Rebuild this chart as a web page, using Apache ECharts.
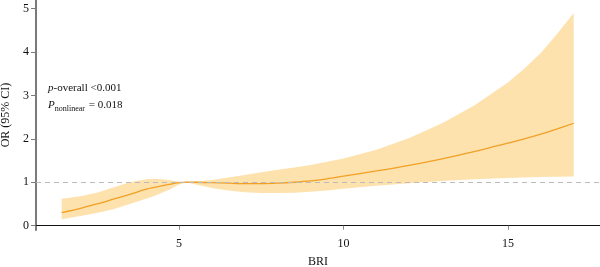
<!DOCTYPE html>
<html>
<head>
<meta charset="utf-8">
<script src="https://cdn.jsdelivr.net/npm/echarts@6/dist/echarts.min.js"></script>
<style>
  html, body { margin: 0; padding: 0; background: #fff; }
  #chart { width: 600px; height: 267px; }
</style>
</head>
<body>
<div id="chart"></div>
<script>
// BRI values and the spline OR estimate with its 95% CI
var bri   = [1.43, 2, 2.5, 3, 3.5, 4, 4.3, 4.7, 5, 5.2, 5.5, 6, 6.5, 7, 7.5, 8, 8.5, 9, 9.5, 10, 11, 12, 13, 14, 15, 15.5, 16, 16.5, 17];
var orFit = [0.30, 0.40, 0.50, 0.61, 0.72, 0.84, 0.89, 0.95, 0.99, 1.0, 1.0, 0.99, 0.98, 0.97, 0.97, 0.98, 1.0, 1.03, 1.08, 1.14, 1.26, 1.39, 1.54, 1.71, 1.90, 2.0, 2.11, 2.23, 2.36];
var ciLow = [0.15, 0.22, 0.29, 0.38, 0.50, 0.62, 0.70, 0.83, 0.95, 1.0, 0.95, 0.87, 0.81, 0.77, 0.75, 0.75, 0.76, 0.78, 0.81, 0.85, 0.92, 0.98, 1.03, 1.07, 1.10, 1.11, 1.12, 1.125, 1.13];
var ciUp  = [0.62, 0.68, 0.76, 0.88, 1.0, 1.07, 1.08, 1.05, 1.01, 1.0, 1.02, 1.05, 1.11, 1.17, 1.23, 1.29, 1.34, 1.40, 1.47, 1.55, 1.75, 2.02, 2.36, 2.78, 3.30, 3.62, 3.98, 4.42, 4.9];
var xTicks = [5, 10, 15];
var yTicks = [0, 1, 2, 3, 4, 5];

var serif = '"Liberation Serif", "DejaVu Serif", serif';

var fitData = bri.map(function (x, i) { return [x, orFit[i]]; });

var myChart = echarts.init(document.getElementById('chart'));
var option = {
    animation: false,
    textStyle: { fontFamily: serif },
    grid: { left: 36, right: 0, top: 0, bottom: 37, containLabel: false, outerBoundsMode: 'none' },
    xAxis: {
        type: 'value',
        min: 0.65,
        max: 17.8,
        name: 'BRI',
        nameLocation: 'middle',
        nameGap: 26,
        nameTextStyle: { fontFamily: serif, fontSize: 12, color: '#111' },
        splitLine: { show: false },
        axisLine: { lineStyle: { color: '#111', width: 1.2 } },
        axisTick: { customValues: xTicks, length: 4, lineStyle: { color: '#888' } },
        axisLabel: { customValues: xTicks, fontFamily: serif, fontSize: 12, color: '#111', margin: 8 }
    },
    yAxis: {
        type: 'value',
        min: -0.1,
        max: 5.2,
        name: 'OR (95% CI)',
        nameLocation: 'middle',
        nameGap: 24,
        nameTextStyle: { fontFamily: serif, fontSize: 12, color: '#111' },
        splitLine: { show: false },
        axisLine: { show: true, lineStyle: { color: '#7a7a7a', width: 2 } },
        axisTick: { show: true, customValues: yTicks, length: 5, lineStyle: { color: '#7a7a7a' } },
        axisLabel: { customValues: yTicks, fontFamily: serif, fontSize: 12, color: '#111', margin: 7 }
    },
    graphic: [
        {
            type: 'text', left: 48, top: 83,
            style: {
                text: '{i|p}-overall <0.001',
                font: '11px ' + serif, fill: '#111',
                rich: { i: { fontStyle: 'italic', fontSize: 11, fontFamily: serif } }
            }
        },
        {
            type: 'text', left: 48, top: 100,
            style: {
                text: '{i|P}{s|nonlinear} = 0.018',
                font: '11px ' + serif, fill: '#111',
                rich: {
                    i: { fontStyle: 'italic', fontSize: 11, fontFamily: serif },
                    s: { fontSize: 8, fontFamily: serif, padding: [6, 1, 0, 0] }
                }
            }
        }
    ],
    series: [
        {
            type: 'custom',
            data: [0],
            silent: true,
            z: 1,
            renderItem: function (params, api) {
                var pts = [];
                for (var i = 0; i < bri.length; i++) pts.push(api.coord([bri[i], ciUp[i]]));
                for (var j = bri.length - 1; j >= 0; j--) pts.push(api.coord([bri[j], ciLow[j]]));
                return {
                    type: 'polygon',
                    shape: { points: pts },
                    style: { fill: '#FDE2AE' }
                };
            }
        },
        {
            type: 'line',
            data: fitData,
            smooth: 0.25,
            showSymbol: false,
            z: 3,
            lineStyle: { color: '#F2A024', width: 1.3 },
            markLine: {
                silent: true,
                symbol: 'none',
                label: { show: false },
                lineStyle: { color: '#bbbbbb', type: [5, 4], width: 1 },
                data: [{ yAxis: 1 }]
            }
        }
    ]
};
myChart.setOption(option);
</script>
</body>
</html>
